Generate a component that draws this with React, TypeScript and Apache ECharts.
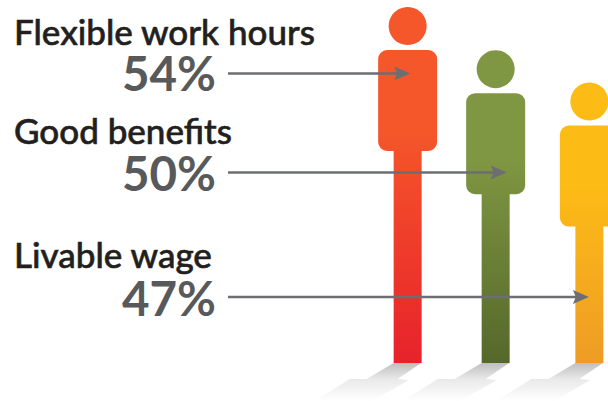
import React, { useEffect, useRef } from "react";
import * as echarts from "echarts";

const categories = ["Flexible work hours", "Good benefits", "Livable wage"];
const percentages = [54, 50, 47];

// Gradient stops per figure: head colour, then foot colour.
const topColors = ["#F5562A", "#7F9642", "#FDBC15"];
const bottomColors = ["#E7222B", "#55682A", "#EE9C25"];

// Annotation layout, in page pixels.
const labelMiddles = [31, 130, 254];
const percentMiddles = [72, 172, 297];
const arrowRows = [73.5, 172.5, 297];
const arrowTipOffsets = [2.5, 11, -0.5];
const figureNudges = [1.2, -1.7, 1.1];

const AXIS_FLOOR = 21;
const AXIS_CEIL = 54;

function renderFigure(params: any, api: any) {
  const i = params.dataIndex as number;
  const base = api.coord([api.value(0), api.value(1)]);
  const foot = api.coord([api.value(0), AXIS_FLOOR]);
  const cx = base[0] + figureNudges[i];
  const top = base[1];
  const bottom = foot[1];

  const fill = new echarts.graphic.LinearGradient(
    0, top, 0, bottom,
    [
      { offset: 0, color: topColors[i] },
      { offset: 0.35, color: topColors[i] },
      { offset: 1, color: bottomColors[i] },
    ],
    true,
  );
  const shadeFill = new echarts.graphic.LinearGradient(
    0, bottom, 0, bottom + 38,
    [
      { offset: 0, color: "#BEBEBE" },
      { offset: 0.42, color: "#E9E9E9" },
      { offset: 1, color: "#FFFFFF" },
    ],
    true,
  );

  const tip = cx + arrowTipOffsets[i];
  const row = arrowRows[i];

  return {
    type: "group",
    children: [
      {
        type: "polygon",
        shape: {
          points: [
            [cx - 14, bottom], [cx + 13.5, bottom], [cx - 10, bottom + 16],
            [cx + 1, bottom + 17], [cx - 35, bottom + 38], [cx - 93, bottom + 38],
            [cx - 58, bottom + 16], [cx - 41, bottom + 16],
          ],
        },
        style: { fill: shadeFill },
      },
      { type: "circle", shape: { cx, cy: top + 19, r: 19 }, style: { fill } },
      {
        type: "rect",
        shape: { x: cx - 29.5, y: top + 43, width: 59, height: 101, r: 9 },
        style: { fill },
      },
      {
        type: "rect",
        shape: { x: cx - 14, y: top + 140, width: 28, height: bottom - top - 140 },
        style: { fill },
      },
      {
        type: "line",
        shape: { x1: 228, y1: row, x2: tip - 12, y2: row },
        style: { stroke: "#6D6E71", lineWidth: 2.4 },
      },
      {
        type: "polygon",
        shape: {
          points: [
            [tip, row], [tip - 16, row - 7], [tip - 13, row], [tip - 16, row + 7],
          ],
        },
        style: { fill: "#6D6E71" },
      },
      {
        type: "text",
        style: {
          text: categories[i], x: 14, y: labelMiddles[i],
          font: "500 35px Lato", fill: "#231F20",
          stroke: "#231F20", lineWidth: 0.6,
          align: "left", verticalAlign: "middle",
        },
      },
      {
        type: "text",
        style: {
          text: `${percentages[i]}%`, x: 216, y: percentMiddles[i],
          font: "700 47.5px Lato", fill: "#58595B",
          align: "right", verticalAlign: "middle",
        },
      },
    ],
  };
}

export default function App() {
  const ref = useRef<HTMLDivElement>(null);

  useEffect(() => {
    document.body.style.margin = "0";
    const chart = echarts.init(ref.current!, null, { renderer: "svg" });
    chart.setOption({
      animation: false,
      backgroundColor: "#FFFFFF",
      grid: { left: 361, right: 0, top: 7, height: 356 },
      // Figures sit at their index along x; the last one runs off the right edge.
      xAxis: { type: "value", min: -0.5, max: 2.217, show: false },
      yAxis: { type: "value", min: AXIS_FLOOR, max: AXIS_CEIL, show: false },
      series: [
        {
          type: "custom",
          clip: false,
          renderItem: renderFigure,
          encode: { x: 0, y: 1 },
          data: percentages.map((v, i) => [i, v]),
        },
      ],
    });
    return () => chart.dispose();
  }, []);

  return <div ref={ref} style={{ width: 608, height: 401, overflow: "hidden" }} />;
}
